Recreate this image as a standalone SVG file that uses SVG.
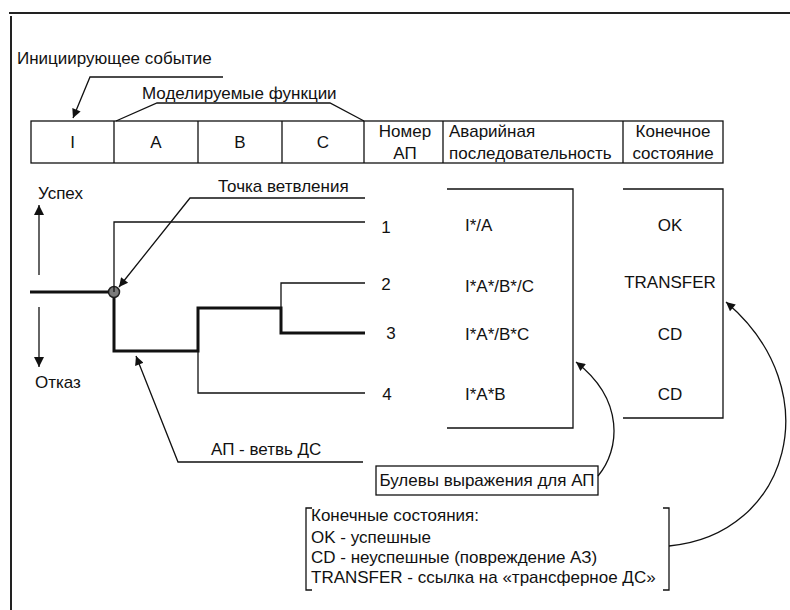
<svg xmlns="http://www.w3.org/2000/svg" width="790" height="610" viewBox="0 0 790 610">
<style>
text{font-family:"Liberation Sans",Arial,sans-serif;font-size:17px;fill:#111}
.m{text-anchor:middle}
.ln{fill:none;stroke:#111;stroke-width:1.3}
.tk{fill:none;stroke:#111;stroke-width:3}
.fr{fill:none;stroke:#222;stroke-width:2}
</style>
<defs>
<marker id="ah" viewBox="0 0 10 10" refX="10" refY="5" markerWidth="13" markerHeight="9" markerUnits="userSpaceOnUse" orient="auto"><path d="M0,0 L10,5 L0,10 z" fill="#111"/></marker>
<marker id="big" viewBox="0 0 10 10" refX="10" refY="5" markerWidth="16" markerHeight="10" markerUnits="userSpaceOnUse" orient="auto"><path d="M0,0 L10,5 L0,10 z" fill="#111"/></marker>
</defs>
<g id="frame">
<line class="fr" x1="9" y1="13" x2="790" y2="13"/>
<line class="fr" x1="11" y1="16" x2="11" y2="610"/>
</g>
<g id="header">
<rect class="ln" x="31" y="121" width="692" height="42" stroke-width="1.5"/>
<path class="ln" d="M114,121V163M198,121V163M282,121V163M364,121V163M443,121V163M623,121V163"/>
<text class="m" x="72.5" y="148">I</text>
<text class="m" x="156" y="148">A</text>
<text class="m" x="240" y="148">B</text>
<text class="m" x="323" y="148">C</text>
<text class="m" x="405" y="137">Номер</text>
<text class="m" x="405" y="159">АП</text>
<text x="449" y="137">Аварийная</text>
<text x="449" y="159">последовательность</text>
<text class="m" x="673" y="137">Конечное</text>
<text class="m" x="673" y="159">состояние</text>
</g>
<g id="label-initiating">
<text x="17" y="64">Инициирующее событие</text>
</g>
<g id="label-functions">
<text x="142" y="99">Моделируемые функции</text>
</g>
<g id="label-success"><text x="38" y="199">Успех</text></g>
<g id="label-failure"><text x="35" y="388">Отказ</text></g>
<g id="label-branch-point"><text x="218" y="192">Точка ветвления</text></g>
<g id="label-branch"><text x="211" y="455">АП - ветвь ДС</text></g>
<g id="branch-node"><circle cx="114" cy="292" r="5.5" fill="#7a7a7a" stroke="#222" stroke-width="1.5"/></g>
<g id="seq-numbers">
<text class="m" x="386" y="233">1</text>
<text class="m" x="386" y="290">2</text>
<text class="m" x="391" y="339">3</text>
<text class="m" x="387" y="400">4</text>
</g>
<g id="sequences">
<path class="ln" d="M447,189H573V428H447"/>
<text x="465" y="231">I*/A</text>
<text x="465" y="292">I*A*/B*/C</text>
<text x="465" y="340">I*A*/B*C</text>
<text x="465" y="400">I*A*B</text>
</g>
<g id="end-states">
<path class="ln" d="M623,189H723V418H623"/>
<text class="m" x="670" y="231">OK</text>
<text class="m" x="670" y="288">TRANSFER</text>
<text class="m" x="670" y="340">CD</text>
<text class="m" x="670" y="400">CD</text>
</g>
<g id="boolean-box">
<rect class="ln" x="376" y="466" width="222" height="29"/>
<text class="m" x="487" y="486">Булевы выражения для АП</text>
</g>
<g id="legend">
<path class="ln" d="M312,508H306V590H312M663,508H669V590H663"/>
<text x="311" y="521">Конечные состояния:</text>
<text x="311" y="543">OK - успешные</text>
<text x="311" y="563">CD - неуспешные (повреждение АЗ)</text>
<text x="311" y="583">TRANSFER - ссылка на «трансферное ДС»</text>
</g>
<g id="connectors">
<polyline class="ln" points="223,77 90,77 73,118" marker-end="url(#ah)"/>
<polyline class="ln" points="116,121 157,103 330,103 364,121"/>
<path class="ln" d="M114,292V222H365M281,308V283H365M198,351V393H365"/>
<path class="tk" d="M30,292H108.5M114,297.5V351H198V308H281V333H365"/>
<polyline class="ln" points="365,198 190,198 119,287" marker-end="url(#ah)"/>
<polyline class="ln" points="363,462 178,462 136,356" marker-end="url(#ah)"/>
<line class="ln" x1="39" y1="275" x2="39" y2="205" stroke-width="1.6" marker-end="url(#big)"/>
<line class="ln" x1="39" y1="307" x2="39" y2="367" stroke-width="1.6" marker-end="url(#big)"/>
<path class="ln" d="M598,476C620,450 625,400 576,362" marker-end="url(#ah)"/>
<path class="ln" d="M669,546C790,535 830,390 726,302" marker-end="url(#ah)"/>
</g>
</svg>
